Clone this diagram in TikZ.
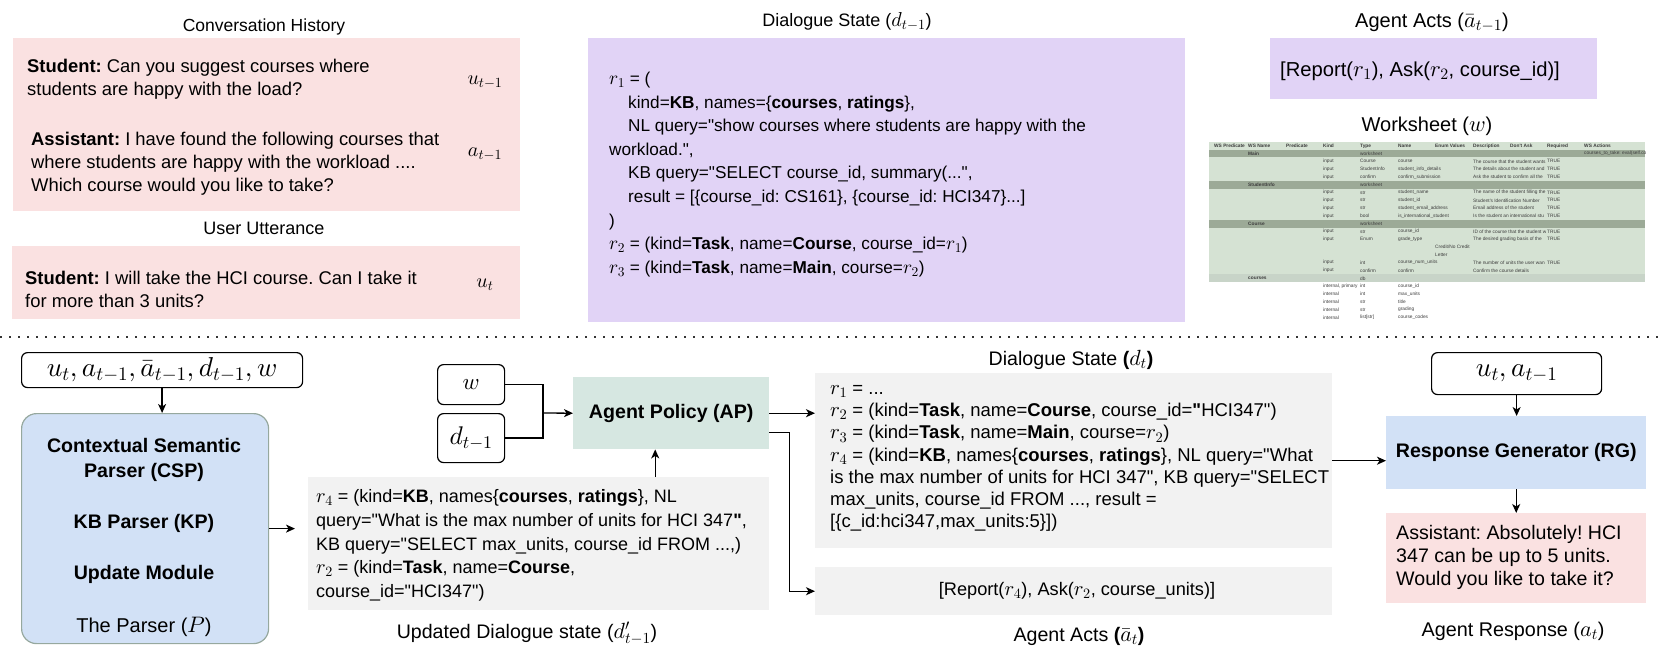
\RequirePackage{fix-cm}
\documentclass[tikz,border=0pt]{standalone}
\usepackage{fontspec}
\setmainfont{Liberation Sans}[Ligatures=TeXOff]
\DeclareFontShape{OML}{cmm}{m}{it}{<->s*[1.12]cmmi10}{\skewchar\font'177}
\DeclareFontShape{OMS}{cmsy}{m}{n}{<->s*[1.12]cmsy10}{\skewchar\font'60}
\DeclareFontShape{OT1}{cmr}{m}{n}{<->s*[1.12]cmr10}{}
\usetikzlibrary{arrows.meta}
\frenchspacing
\definecolor{pinkc}{RGB}{250,225,225}
\definecolor{purplec}{RGB}{225,211,246}
\definecolor{grayc}{RGB}{242,242,242}
\definecolor{apc}{RGB}{214,231,225}
\definecolor{bluec}{RGB}{210,225,246}
\definecolor{parsedge}{RGB}{150,168,158}
\definecolor{wsgreen}{RGB}{213,226,211}
\definecolor{wsband}{RGB}{156,170,151}
\definecolor{wscourses}{RGB}{200,212,200}
\definecolor{wstext}{RGB}{60,60,60}
\newcounter{wsc}
\newcommand\wscell[3]{\stepcounter{wsc}\node[wst] (ws\arabic{wsc}) at (#1,#2) {#3};}
\newcommand\wshead[3]{\stepcounter{wsc}\node[wst,font=\fontsize{4.8}{5}\selectfont\bfseries] (ws\arabic{wsc}) at (#1,#2) {#3};}
\begin{document}
\begin{tikzpicture}[x=1pt,y=-1pt,
  panel/.style={inner sep=0pt, anchor=north west},
  ttl/.style={font=\fontsize{18}{21}\selectfont, inner sep=0pt, anchor=base},
  bttl/.style={font=\fontsize{20}{24}\selectfont, inner sep=0pt, anchor=base},
  body/.style={font=\fontsize{18.4}{22.8}\selectfont, align=left, inner sep=0pt, anchor=west},
  mlab/.style={font=\fontsize{17.9}{22}\selectfont, inner sep=0pt},
  modlab/.style={font=\fontsize{19.6}{25}\selectfont\bfseries, align=center, inner sep=0pt},
  bigmath/.style={font=\fontsize{24.4}{28}\selectfont, inner sep=0pt},
  inbox/.style={draw=black, line width=1.2pt, rounded corners=6pt, inner sep=0pt, anchor=north west},
  arr/.style={-{Stealth[length=9pt,width=8pt,inset=2.5pt]}, line width=1.3pt},
  conn/.style={line width=1.3pt},
  wst/.style={font=\fontsize{4.8}{5}\selectfont, text=wstext, inner sep=0pt, anchor=west}
]
\useasboundingbox (0,0) rectangle (1661,654);

% ---------------- top: conversation history ----------------
\node[ttl, font=\fontsize{17.5}{21}\selectfont] (tch) at (264,31) {Conversation History};
\node[panel, fill=pinkc, minimum width=507pt, minimum height=173pt] (conv) at (13,38) {};
\node[body] (s1) at (27,79.5) {\textbf{Student:} Can you suggest courses where\\students are happy with the load?};
\node[mlab] (ut1) at (485,82) {$u_{t-1}$};
\node[body] (a1) at (31,164) {\textbf{Assistant:} I have found the following courses that\\where students are happy with the workload ....\\Which course would you like to take?};
\node[mlab] (at1) at (485,154) {$a_{t-1}$};

\node[ttl] (tuu) at (264,234) {User Utterance};
\node[panel, fill=pinkc, minimum width=508pt, minimum height=73pt] (utt) at (12,246) {};
\node[body] (s2) at (25,289.5) {\textbf{Student:} I will take the HCI course. Can I take it\\for more than 3 units?};
\node[mlab] (ut) at (485,285) {$u_t$};

% ---------------- top: dialogue state d_{t-1} ----------------
\node[ttl] (tds) at (847,26) {Dialogue State ($d_{t-1}$)};
\node[panel, fill=purplec, minimum width=597pt, minimum height=284pt] (dsold) at (588,38) {};
\node[body, font=\fontsize{17.2}{23.6}\selectfont] (dstext) at (609,174.5) {%
$r_1$ = (\\
\hspace*{19pt}kind=\textbf{KB}, names=\{\textbf{courses}, \textbf{ratings}\},\\
\hspace*{19pt}NL query="show courses where students are happy with the\\
workload.",\\
\hspace*{19pt}KB query="SELECT course\_id, summary(...",\\
\hspace*{19pt}result = [\{course\_id: CS161\}, \{course\_id: HCI347\}...]\\
)\\
$r_2$ = (kind=\textbf{Task}, name=\textbf{Course}, course\_id=$r_1$)\\
$r_3$ = (kind=\textbf{Task}, name=\textbf{Main}, course=$r_2$)};

% ---------------- top: agent acts ----------------
\node[bttl, font=\fontsize{20}{24}\selectfont] (taa) at (1432,27) {Agent Acts ($\bar{a}_{t-1}$)};
\node[panel, fill=purplec, minimum width=327pt, minimum height=61pt] (aaold) at (1270,38) {};
\node[font=\fontsize{20.2}{24}\selectfont, inner sep=0pt] (aatext) at (1420,71) {[Report($r_1$), Ask($r_2$, course\_id)]};

% ---------------- top: worksheet ----------------
\node[bttl] (tws) at (1427,131) {Worksheet ($w$)};
\begin{scope}
\clip (1209,142) rectangle (1645,321);
\fill[wsgreen] (1209,142) rectangle (1645,274.4);
\fill[wsband] (1209,149.6) rectangle (1645,157.4);
\fill[wsband] (1209,180.8) rectangle (1645,188.6);
\fill[wsband] (1209,219.8) rectangle (1645,227.6);
\fill[wscourses] (1209,274.4) rectangle (1645,282.2);
\fill[white] (1209,282.2) rectangle (1645,321);
% header
\wshead{1214}{146}{WS Predicate}
\wshead{1248}{146}{WS Name}
\wshead{1286}{146}{Predicate}
\wshead{1323}{146}{Kind}
\wshead{1360}{146}{Type}
\wshead{1398}{146}{Name}
\wshead{1435}{146}{Enum Values}
\wshead{1473}{146}{Description}
\wshead{1510}{146}{Don't Ask}
\wshead{1547}{146}{Required}
\wshead{1584}{146}{WS Actions}
% Main
\wshead{1248}{153.5}{Main}
\wscell{1360}{153.5}{worksheet}
\wscell{1584}{153.5}{courses\_to\_take: eval(self.courses)}
\wscell{1323}{161.3}{input}\wscell{1360}{161.3}{Course}\wscell{1398}{161.3}{course}\wscell{1547}{161.3}{TRUE}
\wscell{1323}{169.1}{input}\wscell{1360}{169.1}{StudentInfo}\wscell{1398}{169.1}{student\_info\_details}\wscell{1547}{169.1}{TRUE}
\wscell{1323}{176.9}{input}\wscell{1360}{176.9}{confirm}\wscell{1398}{176.9}{confirm\_submission}\wscell{1547}{176.9}{TRUE}
% StudentInfo
\wshead{1248}{184.7}{StudentInfo}
\wscell{1360}{184.7}{worksheet}
\wscell{1323}{192.5}{input}\wscell{1360}{192.5}{str}\wscell{1398}{192.5}{student\_name}\wscell{1547}{192.5}{TRUE}
\wscell{1323}{200.3}{input}\wscell{1360}{200.3}{str}\wscell{1398}{200.3}{student\_id}\wscell{1547}{200.3}{TRUE}
\wscell{1323}{208.1}{input}\wscell{1360}{208.1}{str}\wscell{1398}{208.1}{student\_email\_address}\wscell{1547}{208.1}{TRUE}
\wscell{1323}{215.9}{input}\wscell{1360}{215.9}{bool}\wscell{1398}{215.9}{is\_international\_student}\wscell{1547}{215.9}{TRUE}
% Course
\wshead{1248}{223.7}{Course}
\wscell{1360}{223.7}{worksheet}
\wscell{1323}{231.5}{input}\wscell{1360}{231.5}{str}\wscell{1398}{231.5}{course\_id}\wscell{1547}{231.5}{TRUE}
\wscell{1323}{239.3}{input}\wscell{1360}{239.3}{Enum}\wscell{1398}{239.3}{grade\_type}\wscell{1547}{239.3}{TRUE}
\wscell{1435}{247.1}{Credit/No Credit}
\wscell{1435}{254.9}{Letter}
\wscell{1323}{262.7}{input}\wscell{1360}{262.7}{int}\wscell{1398}{262.7}{course\_num\_units}\wscell{1547}{262.7}{TRUE}
\wscell{1323}{270.5}{input}\wscell{1360}{270.5}{confirm}\wscell{1398}{270.5}{confirm}
% courses db
\wshead{1248}{278.3}{courses}
\wscell{1360}{278.3}{db}
\wscell{1323}{286.1}{internal, primary}\wscell{1360}{286.1}{int}\wscell{1398}{286.1}{course\_id}
\wscell{1323}{293.9}{internal}\wscell{1360}{293.9}{int}\wscell{1398}{293.9}{max\_units}
\wscell{1323}{301.7}{internal}\wscell{1360}{301.7}{str}\wscell{1398}{301.7}{title}
\wscell{1323}{309.5}{internal}\wscell{1360}{309.5}{str}\wscell{1398}{309.5}{grading}
\wscell{1323}{317.3}{internal}\wscell{1360}{317.3}{list[str]}\wscell{1398}{317.3}{course\_codes}
\end{scope}
\begin{scope}
\clip (1473,142) rectangle (1545,282);
\wscell{1473}{161.3}{The course that the student wants}
\wscell{1473}{169.1}{The details about the student and}
\wscell{1473}{176.9}{Ask the student to confirm all the}
\wscell{1473}{192.5}{The name of the student filling the}
\wscell{1473}{200.3}{Student's Identification Number}
\wscell{1473}{208.1}{Email address of the student}
\wscell{1473}{215.9}{Is the student an international stu}
\wscell{1473}{231.5}{ID of the course that the student w}
\wscell{1473}{239.3}{The desired grading basis of the}
\wscell{1473}{262.7}{The number of units the user wan}
\wscell{1473}{270.5}{Confirm the course details}
\end{scope}

% ---------------- separator ----------------
\coordinate (sepl) at (0,337);
\coordinate (sepr) at (1661,337);
\draw[line width=1.6pt, dash pattern=on 1.6pt off 7.4pt, color=black!80] (sepl) -- (sepr);

% ---------------- bottom: parser ----------------
\node[inbox, minimum width=281pt, minimum height=35pt] (inp) at (21,352) {};
\node[bigmath] (inptext) at (inp.center) {$u_t, a_{t-1}, \bar{a}_{t-1}, d_{t-1}, w$};
\node[panel, fill=bluec, draw=parsedge, line width=1.2pt, rounded corners=15pt, minimum width=247pt, minimum height=230pt] (parser) at (21,413) {};
\draw[arr] (inp.south) -- (parser.north -| inp.south);
\node[modlab] (csp) at (144,459.5) {Contextual Semantic\\Parser (CSP)};
\node[modlab] (kp) at (144,523) {KB Parser (KP)};
\node[modlab] (um) at (144,574) {Update Module};
\node[bttl] (tpar) at (144,632) {The Parser ($P$)};

% updated dialogue state
\node[panel, fill=grayc, minimum width=461pt, minimum height=133pt] (upd) at (308,477) {};
\node[body, font=\fontsize{18}{23.75}\selectfont] (updtext) at (316,545.5) {%
$r_4$ = (kind=\textbf{KB}, names\{\textbf{courses}, \textbf{ratings}\}, NL\\
query="What is the max number of units for HCI 347\textbf{"},\\
KB query="SELECT max\_units, course\_id FROM ...,)\\
$r_2$ = (kind=\textbf{Task}, name=\textbf{Course},\\
course\_id="HCI347")};
\node[bttl, font=\fontsize{19.6}{24}\selectfont] (tupd) at (527,638) {Updated Dialogue state ($d'_{t-1}$)};
\draw[arr] (parser.east) -- ([xshift=-13pt]upd.west |- parser.east);

% agent policy
\node[inbox, minimum width=67pt, minimum height=40pt] (wbox) at (437,364) {};
\node[font=\fontsize{20.5}{24}\selectfont, inner sep=0pt] (wtext) at (wbox.center) {$w$};
\node[inbox, minimum width=67pt, minimum height=49pt] (dbox) at (437,413) {};
\node[font=\fontsize{22.8}{26}\selectfont, inner sep=0pt] (dtext) at (dbox.center) {$d_{t-1}$};
\node[panel, fill=apc, minimum width=196pt, minimum height=72pt] (ap) at (573,377) {};
\node[modlab] (aptext) at (ap.center) {Agent Policy (AP)};
\coordinate (join) at (543,413);
\draw[conn] (wbox.east) -| (join);
\draw[conn] (dbox.east) -| (join);
\draw[arr] (join) -- (ap.west);
\draw[arr] ([xshift=-16pt]ap.south |- upd.north) -- ([xshift=-16pt]ap.south);

% new dialogue state
\node[bttl, font=\fontsize{19.6}{24}\selectfont] (tdst) at (1071,365) {Dialogue State \textbf{(}$d_t$\textbf{)}};
\node[panel, fill=grayc, minimum width=517pt, minimum height=175pt] (dst) at (815,373) {};
\node[body, font=\fontsize{18.5}{22.17}\selectfont] (dsttext) at (830,458.5) {%
$r_1$ = ...\\
$r_2$ = (kind=\textbf{Task}, name=\textbf{Course}, course\_id=\textbf{"}HCI347")\\
$r_3$ = (kind=\textbf{Task}, name=\textbf{Main}, course=$r_2$)\\
$r_4$ = (kind=\textbf{KB}, names\{\textbf{courses}, \textbf{ratings}\}, NL query="What\\
is the max number of units for HCI 347", KB query="SELECT\\
max\_units, course\_id FROM ..., result =\\
{}[\{c\_id:hci347,max\_units:5\}])};
\node[panel, fill=grayc, minimum width=517pt, minimum height=48pt] (acts) at (815,567) {};
\node[font=\fontsize{18.2}{22}\selectfont, inner sep=0pt] (actstext) at (1077,591) {[Report($r_4$), Ask($r_2$, course\_units)]};
\node[bttl, font=\fontsize{19.6}{24}\selectfont] (tacts) at (1079,641) {Agent Acts \textbf{(}$\bar{a}_t$\textbf{)}};
\draw[arr] (ap.east) -- (dst.west |- ap.east);
\draw[arr] ([yshift=-19pt]ap.east) -- ++(20,0) |- (acts.west);

% response generator
\node[inbox, minimum width=170pt, minimum height=42pt] (rgin) at (1431,352) {};
\node[bigmath] (rgintext) at (rgin.center) {$u_t, a_{t-1}$};
\node[panel, fill=bluec, minimum width=260pt, minimum height=73pt] (rg) at (1386,416) {};
\node[modlab] (rgtext) at (rg.center) {Response Generator (RG)};
\node[panel, fill=pinkc, minimum width=260pt, minimum height=90pt] (resp) at (1386,513) {};
\node[body, font=\fontsize{19.6}{23}\selectfont] (resptext) at (1396,557) {Assistant: Absolutely! HCI\\347 can be up to 5 units.\\Would you like to take it?};
\node[bttl, font=\fontsize{19.8}{24}\selectfont] (tresp) at (1513,636) {Agent Response ($a_t$)};
\draw[arr] (rgin.south) -- (rg.north -| rgin.south);
\draw[arr] (rg.south) -- (resp.north);
\draw[arr] (dst.east) -- (rg.west |- dst.east);
\end{tikzpicture}
\end{document}
